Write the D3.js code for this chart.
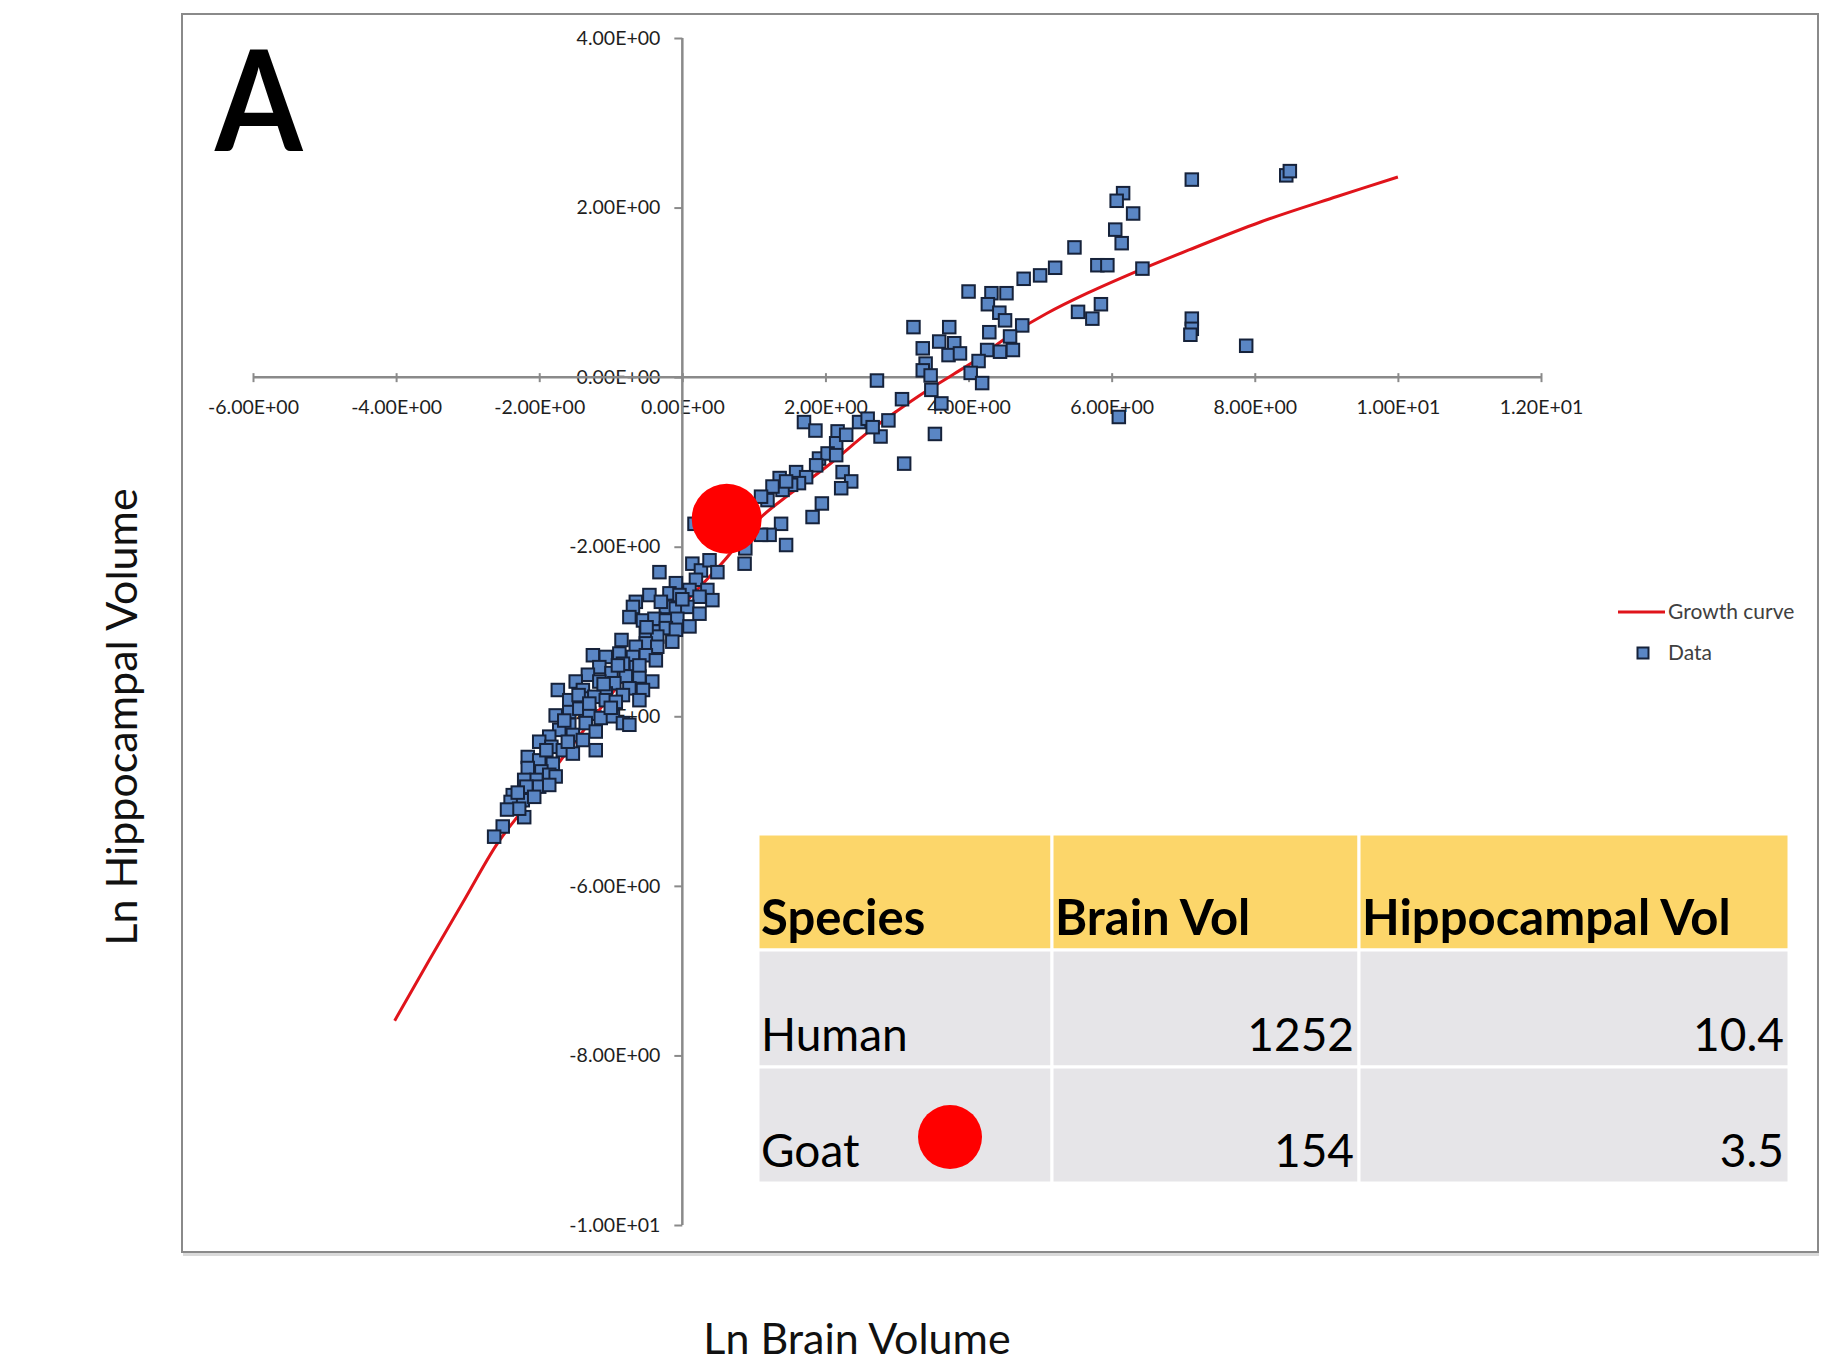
<!DOCTYPE html>
<html>
<head>
<meta charset="utf-8">
<script src="https://cdn.jsdelivr.net/npm/d3@7"></script>
<style>
	body { margin: 0; background: #fff; }
	svg { display: block; }
	.label { font-family: Lato, 'Open Sans', sans-serif; }
</style>
</head>
<body>
<div class="chart-container"></div>
<script>
/// data
var xTicks = [-6, -4, -2, 0, 2, 4, 6, 8, 10, 12];
var yTicks = [4, 2, 0, -2, -4, -6, -8, -10];

// growth curve, hand read
var curveX = [-4.02, -3.54, -3.07, -2.60, -2.32, -2.0, -1.5, -1.0, -0.5, 0, 0.59, 1.05, 1.5, 2.01, 2.61, 3.0, 3.4, 3.8, 4.1, 4.52, 5.09, 5.66, 6.44, 7.08, 8.08, 9.15, 10.0];
var curveY = [-7.59, -6.88, -6.20, -5.52, -5.20, -4.85, -4.30, -3.75, -3.22, -2.70, -2.16, -1.69, -1.38, -1.06, -0.64, -0.40, -0.17, 0.04, 0.20, 0.46, 0.75, 0.99, 1.28, 1.50, 1.83, 2.13, 2.36];

// species data (ln brain, ln hippocampal)
var dataPoints = [
	[7.12,2.33],[8.44,2.38],[8.49,2.43],[6.16,2.17],[6.07,2.08],[6.30,1.93],[6.05,1.74],[6.14,1.58],[5.48,1.53],
	[5.80,1.32],[5.94,1.32],[6.43,1.28],[5.21,1.29],[5.00,1.20],[4.77,1.16],[4.00,1.01],[4.32,0.99],[4.53,0.99],
	[4.27,0.86],[4.43,0.76],[4.51,0.67],[4.75,0.61],[3.23,0.59],[3.73,0.59],[4.29,0.53],[4.58,0.48],[3.36,0.34],
	[3.59,0.42],[3.80,0.40],[3.72,0.26],[3.88,0.28],[4.26,0.32],[4.44,0.30],[4.62,0.32],[3.40,0.16],[3.36,0.08],
	[3.47,0.02],[4.14,0.19],[4.03,0.05],[4.19,-0.07],[2.72,-0.04],[5.53,0.77],[5.73,0.69],[5.85,0.86],[7.12,0.69],
	[7.12,0.57],[7.10,0.50],[7.88,0.37],[3.48,-0.15],[3.62,-0.31],[3.07,-0.26],[3.53,-0.67],[3.10,-1.02],[6.10,-0.47],
	[2.88,-0.51],[2.77,-0.70],
	[1.70,-0.53],[1.86,-0.63],[2.17,-0.64],[2.15,-0.78],[2.47,-0.53],[2.59,-0.49],[2.66,-0.59],[2.29,-0.68],
	[1.91,-0.96],[2.03,-0.90],[2.15,-0.92],[1.87,-1.04],[2.24,-1.12],[2.36,-1.23],[2.22,-1.31],[1.59,-1.12],
	[1.73,-1.18],[1.63,-1.25],[1.52,-1.27],[1.36,-1.19],[1.40,-1.33],[1.26,-1.29],[1.45,-1.23],[1.19,-1.45],
	[1.10,-1.41],[1.95,-1.49],[1.82,-1.65],[1.38,-1.73],[1.22,-1.86],[1.10,-1.86],[1.45,-1.98],[0.17,-1.73],
	[0.88,-2.02],[0.87,-2.20],[-0.32,-2.30],[0.14,-2.20],[0.26,-2.28],[0.38,-2.16],[0.49,-2.30],[0.19,-2.39],
	[-0.09,-2.43],[0.10,-2.51],[0.35,-2.51],[-0.18,-2.55],[-0.46,-2.57],
	[0.42,-2.63],[0.24,-2.59],[-0.04,-2.57],[-0.65,-2.65],[-0.69,-2.71],[-0.23,-2.71],[-0.09,-2.73],[0.07,-2.71],
	[0.24,-2.79],[-0.74,-2.83],[-0.55,-2.87],[-0.39,-2.85],[-0.23,-2.87],[-0.07,-2.85],[0.10,-2.94],[-0.37,-3.00],
	[-0.23,-2.96],[-0.51,-3.02],[-0.09,-2.98],[-0.35,-3.06],[-0.14,-3.12],[-0.51,-3.14],[-0.65,-3.18],[-0.35,-3.18],
	[-1.25,-3.28],[-1.07,-3.30],[-0.88,-3.26],[-0.69,-3.30],[-0.51,-3.28],[-0.37,-3.34],[-0.65,-3.42],[-0.83,-3.38],
	[-1.16,-3.42],[-0.99,-3.49],[-1.32,-3.51],[-0.79,-3.53],[-0.60,-3.53],[-0.42,-3.59],[-1.49,-3.59],[-1.16,-3.59],
	[-0.95,-3.61],[-0.74,-3.67],[-1.74,-3.69],[-1.39,-3.69],[-0.55,-3.69],[-1.07,-3.73],[-0.83,-3.75],
	[-1.58,-3.81],[-1.39,-3.79],[-1.23,-3.77],[-1.07,-3.81],[-0.93,-3.83],[-0.60,-3.81],
	[-1.77,-3.99],[-1.58,-3.95],[-1.44,-3.91],[-1.30,-3.97],[-1.14,-4.02],[-0.97,-4.00],[-0.83,-4.08],[-0.74,-4.10],
	[-1.35,-4.08],[-1.58,-4.10],[-1.21,-4.18],[-1.72,-4.16],[-1.53,-4.22],[-1.39,-4.28],[-1.86,-4.24],[-2.00,-4.30],
	[-1.83,-4.36],[-1.67,-4.40],[-1.21,-4.40],[-1.53,-4.44],[-2.16,-4.48],[-2.00,-4.52],[-1.81,-4.56],[-2.16,-4.61],
	[-1.97,-4.65],[-1.86,-4.69],[-2.04,-4.75],[-2.21,-4.75],[-1.77,-4.71],[-2.18,-4.83],[-2.00,-4.83],[-1.86,-4.81],
	[-2.37,-4.93],[-2.23,-4.99],[-2.07,-4.95],[-2.40,-5.01],[-2.21,-5.19],[-2.28,-5.09],[-2.51,-5.30],[-2.63,-5.42],
	[-1.90,-4.40],[-1.65,-4.05],[-1.45,-3.75],[-1.10,-3.62],[-0.90,-3.40],[-0.50,-2.95],[-0.30,-2.65],[0.00,-2.62],
	[-0.60,-3.40],[-1.30,-3.85],[-1.00,-3.90],[-2.30,-4.90],[-2.45,-5.10],[-1.60,-4.30],[-0.85,-3.10]
];

// the goat, marked with a big red dot
var goatPoint = [0.62, -1.67];

var legendLabels = ['Growth curve', 'Data'];

var tableHead = ['Species', 'Brain Vol', 'Hippocampal Vol'];
var species = ['Human', 'Goat'];
var brainVol = ['1252', '154'];
var hippVol = ['10.4', '3.5'];

/// setup
var width = 1821, height = 1368;

var svg = d3.select('.chart-container').append('svg')
	.attr('width', width)
	.attr('height', height);

var x = d3.scaleLinear().domain([-6, 12]).range([253, 1541]),
	y = d3.scaleLinear().domain([-10, 4]).range([1225, 38]);

function sci(v) {
	if (v === 0) return '0.00E+00';
	var e = Math.floor(Math.log10(Math.abs(v)));
	var m = v / Math.pow(10, e);
	return m.toFixed(2) + 'E' + (e < 0 ? '-' : '+') + (Math.abs(e) < 10 ? '0' : '') + Math.abs(e);
}

var axisGrey = '#8a8a8a';

// chart frame
svg.append('line')
	.attr('x1', 183).attr('x2', 1819)
	.attr('y1', 1254.5).attr('y2', 1254.5)
	.style('stroke', '#dadada')
	.style('stroke-width', 3);
svg.append('rect')
	.attr('x', 182).attr('y', 14)
	.attr('width', 1636).attr('height', 1238)
	.attr('fill', 'none')
	.style('stroke', axisGrey)
	.style('stroke-width', 2);

/// axes (labels first, lines over them like excel)
var gx = svg.append('g')
	.attr('class', 'axis axis--x label')
	.attr('transform', 'translate(0,' + y(0) + ')')
	.call(d3.axisBottom(x).tickValues(xTicks).tickFormat(sci).tickSize(5).tickPadding(18).tickSizeOuter(0));

var gy = svg.append('g')
	.attr('class', 'axis axis--y label')
	.attr('transform', 'translate(' + x(0) + ',0)')
	.call(d3.axisLeft(y).tickValues(yTicks).tickFormat(sci).tickSize(8).tickPadding(14).tickSizeOuter(0));

svg.selectAll('.axis .domain').remove();
svg.selectAll('.axis text')
	.style('font-family', "Lato, 'Open Sans', sans-serif")
	.style('font-size', '19.5px')
	.style('fill', '#1e1e1e');
svg.selectAll('.axis line')
	.style('stroke', axisGrey)
	.style('stroke-width', 2);
gx.selectAll('.tick line').attr('y1', -4).attr('y2', 5);

svg.append('line')
	.attr('x1', x(-6)).attr('x2', x(12))
	.attr('y1', y(0)).attr('y2', y(0))
	.style('stroke', axisGrey)
	.style('stroke-width', 2.5);
svg.append('line')
	.attr('x1', x(0)).attr('x2', x(0))
	.attr('y1', y(4)).attr('y2', y(-10))
	.style('stroke', axisGrey)
	.style('stroke-width', 2.5);

/// growth curve
var line = d3.line()
	.x(function(d) { return x(d[0]); })
	.y(function(d) { return y(d[1]); })
	.curve(d3.curveCatmullRom);

svg.append('path')
	.datum(curveX.map(function(v, i) { return [v, curveY[i]]; }))
	.attr('class', 'growth')
	.attr('fill', 'none')
	.attr('d', line)
	.style('stroke', '#e0141b')
	.style('stroke-width', 3);

/// data squares
var sq = 12.5;
svg.append('g').attr('class', 'points')
	.selectAll('rect')
	.data(dataPoints)
	.enter().append('rect')
	.attr('x', function(d) { return x(d[0]) - sq / 2; })
	.attr('y', function(d) { return y(d[1]) - sq / 2; })
	.attr('width', sq)
	.attr('height', sq)
	.style('fill', '#5a86c4')
	.style('stroke', '#16223a')
	.style('stroke-width', 2);

// goat
svg.append('circle')
	.attr('cx', x(goatPoint[0]))
	.attr('cy', y(goatPoint[1]))
	.attr('r', 35)
	.style('fill', '#ff0000');

/// legend
var legend = svg.append('g').attr('class', 'legend label')
	.attr('transform', 'translate(1618,612)');
legend.append('line')
	.attr('x1', 0).attr('x2', 47)
	.attr('y1', 0).attr('y2', 0)
	.style('stroke', '#e0141b')
	.style('stroke-width', 3);
legend.append('rect')
	.attr('x', 25 - 5.5).attr('y', 41 - 5.5)
	.attr('width', 11).attr('height', 11)
	.style('fill', '#5a86c4')
	.style('stroke', '#16223a')
	.style('stroke-width', 2);
legend.selectAll('text.leg')
	.data(legendLabels)
	.enter().append('text')
	.attr('class', 'leg')
	.attr('x', 50)
	.attr('y', function(d, i) { return i * 41; })
	.attr('dy', '0.35em')
	.style('font-size', '21px')
	.style('fill', '#404040')
	.text(function(d) { return d; });

/// axis titles and panel letter
svg.append('text')
	.attr('class', 'label')
	.attr('transform', 'translate(215,151) scale(0.9,1)')
	.style('font-size', '140px')
	.style('font-weight', 'bold')
	.style('fill', '#000')
	.text('A');

svg.append('text')
	.attr('class', 'label axis-label')
	.attr('transform', 'translate(137,717) rotate(-90)')
	.style('text-anchor', 'middle')
	.style('font-size', '43px')
	.style('fill', '#111')
	.text('Ln Hippocampal Volume');

svg.append('text')
	.attr('class', 'label axis-label')
	.attr('x', 857).attr('y', 1354)
	.style('text-anchor', 'middle')
	.style('font-size', '43px')
	.style('fill', '#111')
	.text('Ln Brain Volume');

/// table
var colEdges = [758, 1052, 1359, 1789],
	rowEdges = [834, 950, 1067, 1183];

var rows = [tableHead].concat(species.map(function(s, i) { return [s, brainVol[i], hippVol[i]]; }));
var gTable = svg.append('g').attr('class', 'table label');

rows.forEach(function(r, ri) {
	r.forEach(function(cell, ci) {
		gTable.append('rect')
			.attr('x', colEdges[ci])
			.attr('y', rowEdges[ri])
			.attr('width', colEdges[ci + 1] - colEdges[ci])
			.attr('height', rowEdges[ri + 1] - rowEdges[ri])
			.style('fill', ri === 0 ? '#fcd66a' : '#e6e5e8')
			.style('stroke', '#fff')
			.style('stroke-width', 3);
		var right = (ri > 0 && ci > 0);
		gTable.append('text')
			.attr('x', right ? colEdges[ci + 1] - 5 : colEdges[ci] + 3)
			.attr('y', rowEdges[ri + 1] - (ri === 0 ? 15 : 16))
			.style('text-anchor', right ? 'end' : 'start')
			.style('font-size', ri === 0 ? '49px' : '46px')
			.style('font-weight', ri === 0 ? 'bold' : 'normal')
			.style('fill', '#000')
			.text(cell);
	});
});

// red dot next to goat in the table
gTable.append('circle')
	.attr('cx', 950).attr('cy', 1137)
	.attr('r', 32)
	.style('fill', '#ff0000');
</script>
</body>
</html>
